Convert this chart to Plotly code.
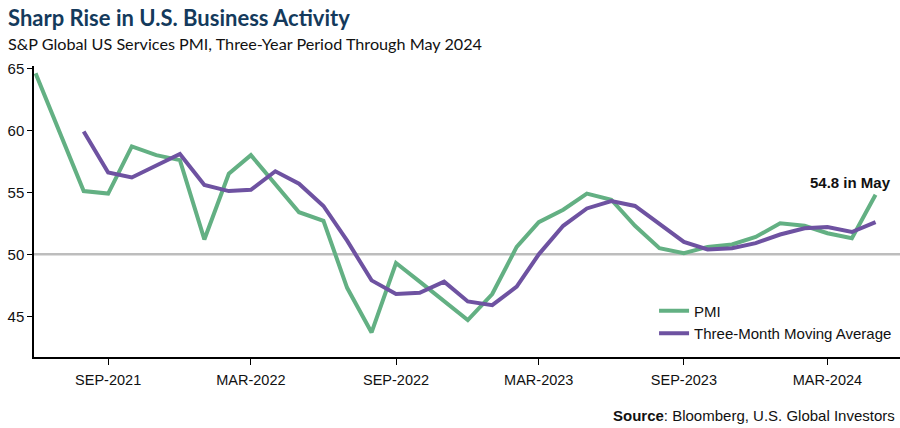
import plotly.graph_objects as go

months = ["2021-06-01", "2021-07-01", "2021-08-01", "2021-09-01", "2021-10-01", "2021-11-01",
          "2021-12-01", "2022-01-01", "2022-02-01", "2022-03-01", "2022-04-01", "2022-05-01",
          "2022-06-01", "2022-07-01", "2022-08-01", "2022-09-01", "2022-10-01", "2022-11-01",
          "2022-12-01", "2023-01-01", "2023-02-01", "2023-03-01", "2023-04-01", "2023-05-01",
          "2023-06-01", "2023-07-01", "2023-08-01", "2023-09-01", "2023-10-01", "2023-11-01",
          "2023-12-01", "2024-01-01", "2024-02-01", "2024-03-01", "2024-04-01", "2024-05-01"]

pmi = [64.6, 59.9, 55.1, 54.9, 58.7, 58.0, 57.6, 51.2, 56.5, 58.0, 55.6, 53.4,
       52.7, 47.3, 43.7, 49.3, 47.8, 46.2, 44.7, 46.8, 50.6, 52.6, 53.6, 54.9,
       54.4, 52.3, 50.5, 50.1, 50.6, 50.8, 51.4, 52.5, 52.3, 51.7, 51.3, 54.8]

ma_months = months[2:]
ma3 = [59.9, 56.6, 56.2, 57.2, 58.1, 55.6, 55.1, 55.2, 56.7, 55.7, 53.9, 51.1,
       47.9, 46.8, 46.9, 47.8, 46.2, 45.9, 47.4, 50.0, 52.3, 53.7, 54.3, 53.9,
       52.4, 51.0, 50.4, 50.5, 50.9, 51.6, 52.1, 52.2, 51.8, 52.6]

tick_vals = ["2021-09-01", "2022-03-01", "2022-09-01", "2023-03-01", "2023-09-01", "2024-03-01"]
tick_text = ["SEP-2021", "MAR-2022", "SEP-2022", "MAR-2023", "SEP-2023", "MAR-2024"]
y_ticks = [45, 50, 55, 60, 65]

GREEN = "#63b083"
PURPLE = "#6e52a1"
NARROW = "Liberation Sans Narrow, Arial Narrow, sans-serif"

fig = go.Figure()
fig.add_trace(go.Scatter(x=months, y=pmi, mode="lines", name="PMI",
                         line=dict(color=GREEN, width=4)))
fig.add_trace(go.Scatter(x=ma_months, y=ma3, mode="lines", name="Three-Month Moving Average",
                         line=dict(color=PURPLE, width=4)))

fig.add_shape(type="line", xref="paper", yref="y", x0=0, x1=1, y0=50, y1=50,
              line=dict(color="#bdbdbd", width=2.5), layer="below")

fig.update_layout(
    width=900, height=428,
    margin=dict(l=34, r=0, t=66, b=71),
    plot_bgcolor="white", paper_bgcolor="white",
    showlegend=True,
    legend=dict(x=0.716, y=0.215, xanchor="left", yanchor="top",
                font=dict(family=NARROW, size=15, color="#111"),
                bgcolor="rgba(0,0,0,0)", tracegroupgap=2, itemwidth=30),
    xaxis=dict(type="date", range=["2021-05-30", "2024-06-01"],
               tickvals=tick_vals, ticktext=tick_text, automargin=False,
               showline=True, linecolor="black", linewidth=1.5,
               ticks="outside", ticklen=6, tickcolor="black", tickwidth=1,
               ticklabelstandoff=3,
               showgrid=False, zeroline=False,
               tickfont=dict(family=NARROW, size=14.5, color="#111")),
    yaxis=dict(range=[41.72, 65.19], tickvals=y_ticks, automargin=False,
               showline=True, linecolor="black", linewidth=1.5,
               ticks="outside", ticklen=5, tickcolor="black", tickwidth=1,
               showgrid=False, zeroline=False,
               tickfont=dict(family=NARROW, size=15, color="#111")),
)

fig.add_annotation(xref="paper", yref="paper", x=0, y=1, xshift=-28, yshift=33,
                   xanchor="left", yanchor="bottom",
                   text="<b>Sharp Rise in U.S. Business Activity</b>", showarrow=False,
                   font=dict(family="Lato", size=22, color="#143a5c"))
fig.add_annotation(xref="paper", yref="paper", x=0, y=1, xshift=-28, yshift=11,
                   xanchor="left", yanchor="bottom",
                   text="S&P Global US Services PMI, Three-Year Period Through May 2024", showarrow=False,
                   font=dict(family="Lato", size=16.2, color="#111"))
fig.add_annotation(x=months[-1], y=pmi[-1], xref="x", yref="y",
                   xanchor="right", yanchor="bottom", xshift=17, yshift=2,
                   text="<b>54.8 in May</b>", showarrow=False,
                   font=dict(family=NARROW, size=15, color="#111"))
fig.add_annotation(xref="paper", yref="paper", x=1, y=0, xshift=-3, yshift=-69,
                   xanchor="right", yanchor="bottom",
                   text="<b>Source</b>: Bloomberg, U.S. Global Investors", showarrow=False,
                   font=dict(family=NARROW, size=15, color="#111"))

fig.write_html("out.html", config={"displayModeBar": False},
               post_script="document.body.style.margin='0';document.body.style.padding='0';")
